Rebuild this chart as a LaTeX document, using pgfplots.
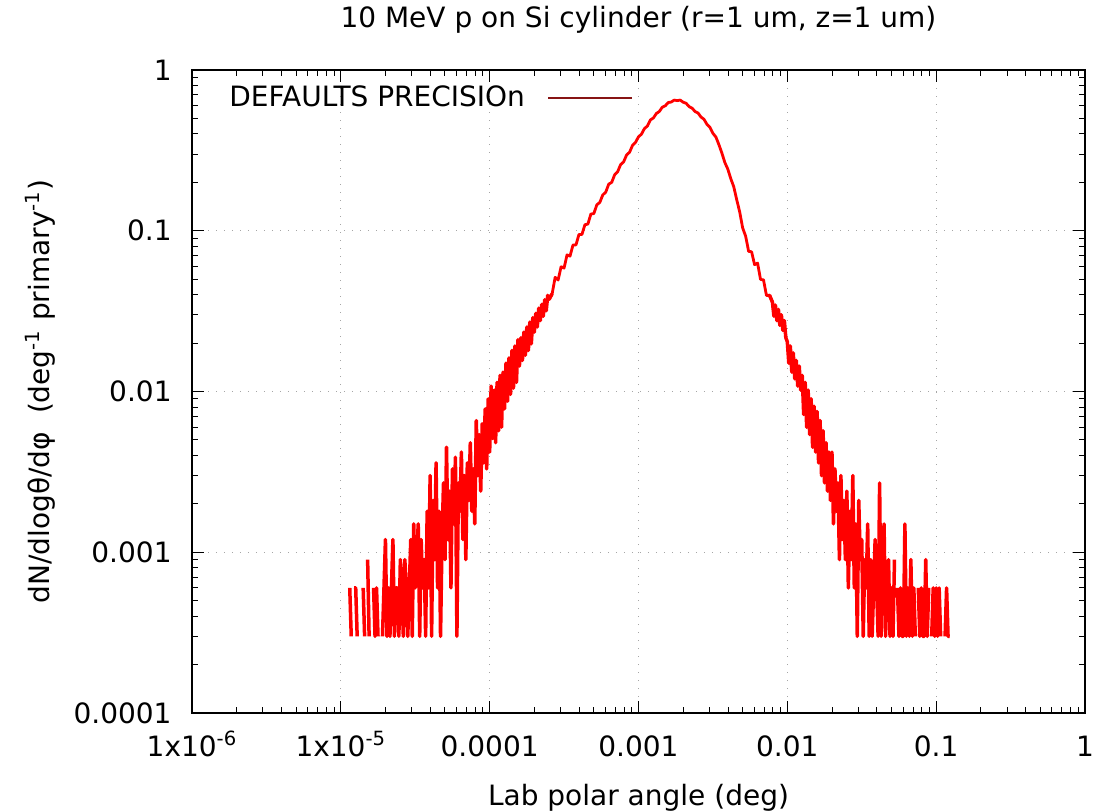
\documentclass[border=0pt]{standalone}
\usepackage{fontspec}
\setmainfont{DejaVu Sans}
\usepackage{pgfplots}
\usepackage{pgfplotstable}
\pgfplotsset{compat=1.18}
\definecolor{legred}{RGB}{135,20,20}
% left tail of the histogram (low counts, one count = 3e-4)
\pgfplotstableread{
x y
1.148e-5 0.0006
1.175e-5 0.0003
1.202e-5 nan
1.230e-5 0.0006
1.259e-5 0.0006
1.288e-5 0.0003
1.318e-5 nan
1.349e-5 nan
1.380e-5 nan
1.413e-5 0.0006
1.445e-5 0.0003
1.479e-5 nan
1.514e-5 0.0009
1.549e-5 0.0003
1.585e-5 nan
1.622e-5 nan
1.660e-5 0.0006
1.698e-5 0.0003
1.738e-5 0.0006
1.778e-5 0.0003
1.820e-5 nan
1.862e-5 nan
1.905e-5 0.0003
1.950e-5 0.0006
1.995e-5 0.0012
2.042e-5 0.0003
2.089e-5 0.0006
2.138e-5 0.0003
2.188e-5 0.0006
2.239e-5 0.0012
2.291e-5 0.0003
2.344e-5 0.0006
2.399e-5 0.0006
2.455e-5 0.0003
2.512e-5 0.0009
2.570e-5 0.0006
2.630e-5 0.0003
2.692e-5 0.0009
2.754e-5 0.0006
2.818e-5 0.0003
2.884e-5 0.0006
2.951e-5 0.0012
3.020e-5 0.0003
3.090e-5 0.0015
3.162e-5 0.0006
3.236e-5 0.0009
3.311e-5 0.0015
3.388e-5 0.0003
3.467e-5 0.0012
3.548e-5 0.0006
3.631e-5 0.0009
3.715e-5 0.0003
3.802e-5 0.0018
3.890e-5 0.0006
3.981e-5 0.0030
4.074e-5 0.0003
4.169e-5 0.0021
4.266e-5 0.0009
4.365e-5 0.0036
4.467e-5 0.0006
4.571e-5 0.0018
4.677e-5 0.0003
4.786e-5 0.0012
4.898e-5 0.0027
5.012e-5 0.0009
5.129e-5 0.0045
5.248e-5 0.0012
5.370e-5 0.0024
5.495e-5 0.0006
5.623e-5 0.0033
5.754e-5 0.0015
5.888e-5 0.0039
6.026e-5 0.0003
6.166e-5 0.0027
6.310e-5 0.0018
6.457e-5 0.0042
6.607e-5 0.0012
6.761e-5 0.0030
6.918e-5 0.0009
7.079e-5 0.0036
7.244e-5 0.0021
7.413e-5 0.0048
7.586e-5 0.0018
7.762e-5 0.0033
7.943e-5 0.0015
8.128e-5 0.0066
8.318e-5 0.0030
8.511e-5 0.0054
8.710e-5 0.0024
8.913e-5 0.0063
9.120e-5 0.0036
9.333e-5 0.0078
9.550e-5 0.0033
9.772e-5 0.0090
1.000e-4 0.0042
1.023e-4 0.0108
1.047e-4 0.0051
1.072e-4 0.0102
1.096e-4 0.0048
1.122e-4 0.0114
1.148e-4 0.0057
1.175e-4 0.0126
1.202e-4 0.0060
1.230e-4 0.0132
1.259e-4 0.0078
1.288e-4 0.0150
1.318e-4 0.0087
1.349e-4 0.0162
1.380e-4 0.0096
1.413e-4 0.0180
1.445e-4 0.0105
1.479e-4 0.0192
1.514e-4 0.0114
1.549e-4 0.0210
1.585e-4 0.0144
1.622e-4 0.0216
1.660e-4 0.0156
1.698e-4 0.0234
1.738e-4 0.0168
1.778e-4 0.0252
1.820e-4 0.0180
1.862e-4 0.0270
1.905e-4 0.0198
1.950e-4 0.0288
1.995e-4 0.0234
2.042e-4 0.0306
2.089e-4 0.0252
2.138e-4 0.0330
2.188e-4 0.0276
2.239e-4 0.0348
2.291e-4 0.0294
2.344e-4 0.0372
2.399e-4 0.0318
2.455e-4 0.0396
2.512e-4 0.0375
2.630e-4 0.0406
}\lefttail
% central part
\pgfplotstableread{
x y
2.512e-4 0.0375
2.630e-4 0.0406
2.754e-4 0.0513
2.884e-4 0.0494
3.020e-4 0.0597
3.162e-4 0.0586
3.311e-4 0.0708
3.467e-4 0.0695
3.631e-4 0.0816
3.802e-4 0.0817
3.981e-4 0.0948
4.169e-4 0.0948
4.365e-4 0.109
4.571e-4 0.110
4.786e-4 0.127
5.012e-4 0.128
5.248e-4 0.145
5.495e-4 0.150
5.754e-4 0.167
6.026e-4 0.174
6.310e-4 0.195
6.607e-4 0.200
6.918e-4 0.223
7.244e-4 0.233
7.586e-4 0.258
7.943e-4 0.268
8.318e-4 0.296
8.710e-4 0.308
9.120e-4 0.340
9.550e-4 0.355
1.000e-3 0.384
1.047e-3 0.399
1.096e-3 0.432
1.148e-3 0.448
1.202e-3 0.489
1.259e-3 0.503
1.318e-3 0.536
1.380e-3 0.552
1.445e-3 0.587
1.514e-3 0.599
1.585e-3 0.628
1.660e-3 0.632
1.738e-3 0.650
1.820e-3 0.645
1.905e-3 0.650
1.995e-3 0.631
2.089e-3 0.621
2.188e-3 0.592
2.291e-3 0.579
2.399e-3 0.552
2.512e-3 0.540
2.630e-3 0.510
2.754e-3 0.494
2.884e-3 0.459
3.020e-3 0.440
3.162e-3 0.404
3.311e-3 0.383
3.467e-3 0.344
3.631e-3 0.305
3.802e-3 0.266
3.981e-3 0.242
4.169e-3 0.211
4.365e-3 0.188
4.571e-3 0.156
4.786e-3 0.131
5.012e-3 0.104
5.248e-3 0.0925
5.495e-3 0.0745
5.754e-3 0.0740
6.026e-3 0.0615
6.310e-3 0.0630
6.607e-3 0.0498
6.918e-3 0.0495
7.244e-3 0.0395
7.586e-3 0.0398
7.943e-3 0.0360
}\centre
% right tail
\pgfplotstableread{
x y
7.586e-3 0.0398
7.943e-3 0.0360
8.128e-3 0.0294
8.318e-3 0.0345
8.511e-3 0.0276
8.710e-3 0.0324
8.913e-3 0.0258
9.120e-3 0.0300
9.333e-3 0.0240
9.550e-3 0.0276
9.772e-3 0.0216
1.000e-2 0.0204
1.023e-2 0.0150
1.047e-2 0.0192
1.072e-2 0.0132
1.096e-2 0.0174
1.122e-2 0.0120
1.148e-2 0.0156
1.175e-2 0.0108
1.202e-2 0.0144
1.230e-2 0.0102
1.259e-2 0.0126
1.288e-2 0.0072
1.318e-2 0.0114
1.349e-2 0.0060
1.380e-2 0.0102
1.413e-2 0.0054
1.445e-2 0.0090
1.479e-2 0.0045
1.514e-2 0.0081
1.549e-2 0.0042
1.585e-2 0.0075
1.622e-2 0.0036
1.660e-2 0.0066
1.698e-2 0.0030
1.738e-2 0.0057
1.778e-2 0.0027
1.820e-2 0.0048
1.862e-2 0.0024
1.905e-2 0.0042
1.950e-2 0.0021
1.995e-2 0.0042
2.042e-2 0.0015
2.089e-2 0.0033
2.138e-2 0.0018
2.188e-2 0.0027
2.239e-2 0.0009
2.291e-2 0.0030
2.344e-2 0.0012
2.399e-2 0.0021
2.455e-2 0.0009
2.512e-2 0.0024
2.570e-2 0.0006
2.630e-2 0.0018
2.692e-2 0.0009
2.754e-2 0.0030
2.818e-2 0.0006
2.884e-2 0.0015
2.951e-2 0.0003
3.020e-2 0.0021
3.090e-2 0.0009
3.162e-2 0.0012
3.236e-2 0.0003
3.311e-2 0.0009
3.388e-2 0.0006
3.467e-2 0.0015
3.548e-2 0.0003
3.631e-2 0.0009
3.715e-2 0.0003
3.802e-2 0.0006
3.890e-2 0.0012
3.981e-2 0.0006
4.074e-2 0.0003
4.169e-2 0.0027
4.266e-2 0.0003
4.365e-2 0.0009
4.467e-2 0.0015
4.571e-2 0.0003
4.677e-2 0.0006
4.786e-2 0.0009
4.898e-2 0.0003
5.012e-2 0.0006
5.129e-2 0.0003
5.248e-2 0.0009
5.370e-2 nan
5.495e-2 0.0006
5.623e-2 0.0003
5.754e-2 0.0006
5.888e-2 0.0003
6.026e-2 0.0003
6.166e-2 0.0015
6.310e-2 0.0003
6.457e-2 0.0006
6.607e-2 0.0003
6.761e-2 0.0009
6.918e-2 0.0003
7.079e-2 0.0006
7.244e-2 0.0003
7.413e-2 nan
7.586e-2 0.0006
7.762e-2 0.0003
7.943e-2 0.0006
8.128e-2 0.0003
8.318e-2 0.0003
8.511e-2 0.0009
8.710e-2 0.0003
8.913e-2 0.0006
9.120e-2 nan
9.333e-2 0.0003
9.550e-2 0.0006
9.772e-2 0.0003
1.000e-1 0.0006
1.023e-1 0.0003
1.047e-1 0.0006
1.072e-1 0.0003
1.096e-1 nan
1.122e-1 nan
1.148e-1 0.0003
1.175e-1 0.0006
1.202e-1 0.0003
1.230e-1 0.0003
}\righttail

\begin{document}
\begin{tikzpicture}[font=\fontsize{14pt}{17pt}\selectfont]
\begin{axis}[name=ax, scale only axis, width=446.5pt, height=321.5pt,
  xmode=log, ymode=log, xmin=1e-6, xmax=1, ymin=1e-4, ymax=1,
  xtick={1e-6,1e-5,1e-4,1e-3,1e-2,1e-1,1},
  xticklabels={1x10\textsuperscript{-6},1x10\textsuperscript{-5},0.0001,0.001,0.01,0.1,1},
  ytick={1e-4,1e-3,1e-2,1e-1,1},
  yticklabels={0.0001,0.001,0.01,0.1,1},
  minor xtick={2e-6,3e-6,4e-6,5e-6,6e-6,7e-6,8e-6,9e-6,2e-5,3e-5,4e-5,5e-5,6e-5,7e-5,8e-5,9e-5,2e-4,3e-4,4e-4,5e-4,6e-4,7e-4,8e-4,9e-4,2e-3,3e-3,4e-3,5e-3,6e-3,7e-3,8e-3,9e-3,2e-2,3e-2,4e-2,5e-2,6e-2,7e-2,8e-2,9e-2,0.2,0.3,0.4,0.5,0.6,0.7,0.8,0.9},
  minor ytick={2e-4,3e-4,4e-4,5e-4,6e-4,7e-4,8e-4,9e-4,2e-3,3e-3,4e-3,5e-3,6e-3,7e-3,8e-3,9e-3,2e-2,3e-2,4e-2,5e-2,6e-2,7e-2,8e-2,9e-2,0.2,0.3,0.4,0.5,0.6,0.7,0.8,0.9},
  tick align=inside, xtick pos=both, ytick pos=both,
  major tick length=6pt, minor tick length=3pt,
  every tick/.style={black, line width=0.5pt},
  axis line style={line width=0.8pt},
  grid=major,
  major grid style={gray!70, line width=0.5pt, dash pattern=on 0.5pt off 3.5pt},
  xticklabel style={anchor=base, inner sep=0pt, yshift=-21.5pt},
  yticklabel style={anchor=east, inner sep=0pt, xshift=-10pt},
  title={10 MeV p on Si cylinder (r=1 um, z=1 um)},
  title style={at={([yshift=15.5pt]axis description cs:0.5,1)}, anchor=base, inner sep=0pt},
  xlabel={Lab polar angle (deg)},
  xlabel style={at={([yshift=-46pt]axis description cs:0.5,0)}, anchor=base, inner sep=0pt},
  ylabel={dN/dlogθ/dφ\ \ (deg\textsuperscript{-1} primary\textsuperscript{-1})},
  ylabel style={at={([xshift=-71pt]axis description cs:0,0.5)}, anchor=base, inner sep=0pt},
  unbounded coords=jump,
  legend plot pos=right,
  legend style={at={(0.0414,0.9565)}, anchor=west, draw=none, fill=none, inner sep=0pt,
    nodes={inner sep=0pt}},
]
\addplot[red, line width=1.75pt, sharp plot, line join=round, forget plot] table[x=x,y=y]{\lefttail};
\addplot[red, line width=1.4pt, sharp plot, line join=round, forget plot] table[x=x,y=y]{\centre};
\addplot[red, line width=1.75pt, sharp plot, line join=round, forget plot] table[x=x,y=y]{\righttail};
\addlegendimage{legend image code/.code={\path (0pt,0pt); \draw[legred, line width=0.6pt] (11.5pt,0pt) -- (53.5pt,0pt);}}
\addlegendentry{DEFAULTS PRECISIOn}
\end{axis}
\path ([xshift=-96pt,yshift=-49.5pt]ax.south west) rectangle ([xshift=16pt,yshift=35pt]ax.north east);
\end{tikzpicture}
\end{document}
